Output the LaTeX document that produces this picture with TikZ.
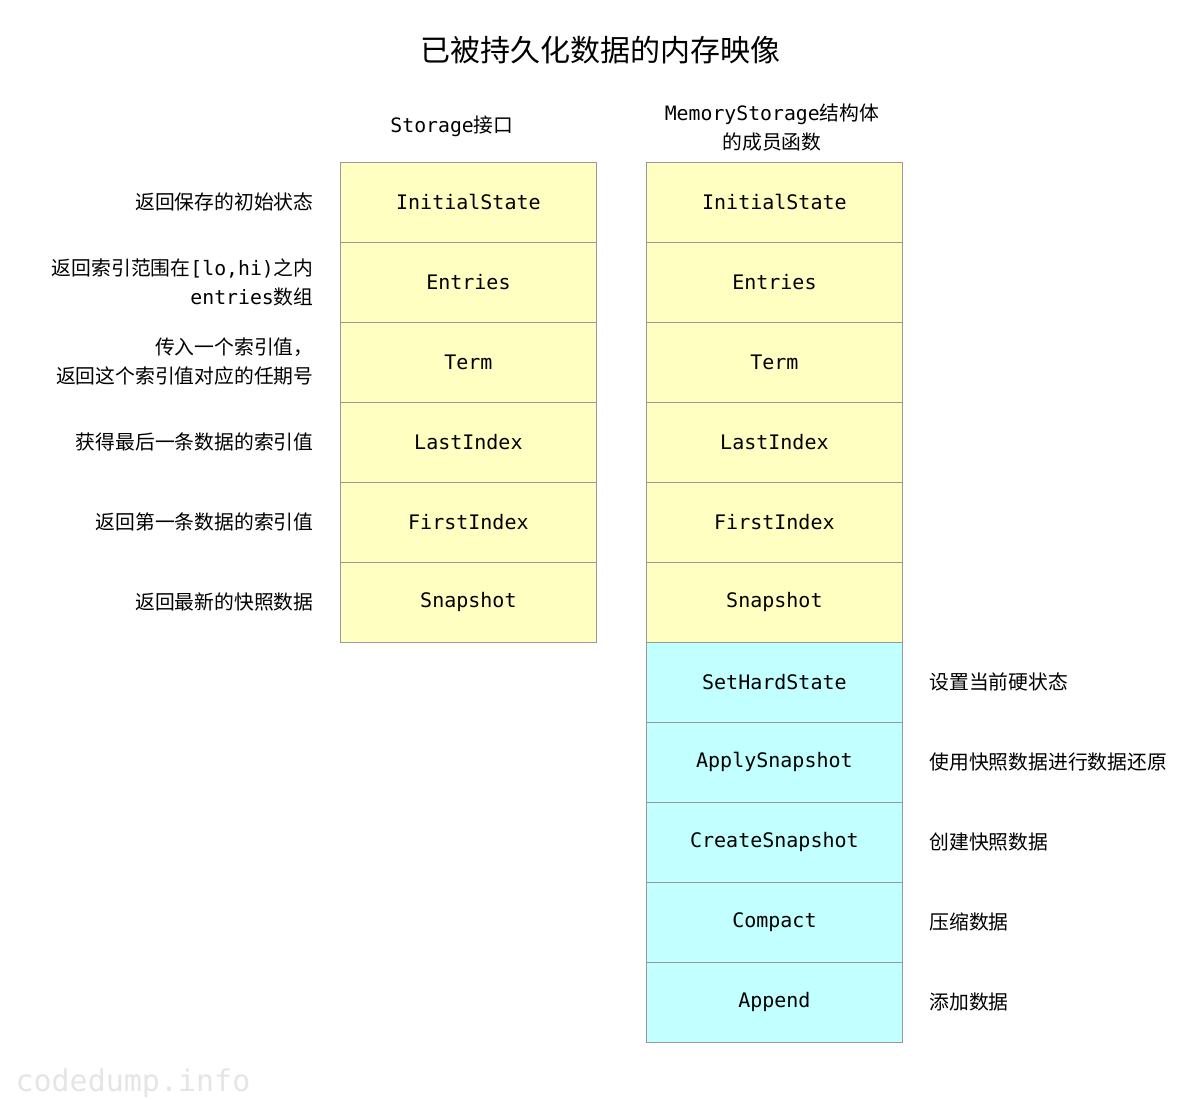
\documentclass[tikz,border=0pt]{standalone}
\usepackage{fontspec}
\setmainfont{Noto Sans CJK SC}
\newfontfamily\cjk{Noto Sans CJK SC}
\newfontfamily\mono{DejaVu Sans Mono}
\definecolor{yel}{HTML}{FFFFC2}
\definecolor{cya}{HTML}{C2FFFF}
\definecolor{bd}{HTML}{999999}
\begin{document}
\begin{tikzpicture}[x=1pt,y=-1pt,
  cell/.style={draw=bd,line width=0.8pt,minimum width=256pt,minimum height=80pt,inner sep=0pt,font=\mono\fontsize{20}{22}\selectfont,anchor=north west},
  yc/.style={cell,fill=yel},
  cc/.style={cell,fill=cya},
  ll/.style={anchor=east,align=right,font=\cjk\fontsize{19.8}{29}\selectfont},
  rl/.style={anchor=west,align=left,font=\cjk\fontsize{19.8}{29}\selectfont},
  hd/.style={align=center,font=\cjk\fontsize{19.8}{29}\selectfont}]
\useasboundingbox (0,0) rectangle (1200,1100);
\node[font=\cjk\fontsize{30}{34}\selectfont] (title) at (600,50) {已被持久化数据的内存映像};
\node[hd] (h1) at (452,126) {{\mono Storage}接口};
\node[hd] (h2) at (772,128) {{\mono MemoryStorage}结构体\\的成员函数};
\foreach \t [count=\i from 0] in {InitialState,Entries,Term,LastIndex,FirstIndex,Snapshot}{
  \node[yc] (l\i) at (340,162+80*\i) {\t};
  \node[yc] (r\i) at (646,162+80*\i) {\t};
}
\foreach \t [count=\i from 6] in {SetHardState,ApplySnapshot,CreateSnapshot,Compact,Append}{
  \node[cc] (r\i) at (646,162+80*\i) {\t};
}
\node[ll] (a0) at (317,202) {返回保存的初始状态};
\node[ll] (a1) at (317,282) {返回索引范围在{\mono[lo,hi)}之内\\{\mono entries}数组};
\node[ll] (a2) at (317,362) {传入一个索引值，\\返回这个索引值对应的任期号};
\node[ll] (a3) at (317,442) {获得最后一条数据的索引值};
\node[ll] (a4) at (317,522) {返回第一条数据的索引值};
\node[ll] (a5) at (317,602) {返回最新的快照数据};
\node[rl] (b6) at (926,682) {设置当前硬状态};
\node[rl] (b7) at (926,762) {使用快照数据进行数据还原};
\node[rl] (b8) at (926,842) {创建快照数据};
\node[rl] (b9) at (926,922) {压缩数据};
\node[rl] (b10) at (926,1002) {添加数据};
\node[anchor=west,font=\mono\fontsize{30}{32}\selectfont,text=gray!20] (wm) at (12,1083) {codedump.info};
\end{tikzpicture}
\end{document}
